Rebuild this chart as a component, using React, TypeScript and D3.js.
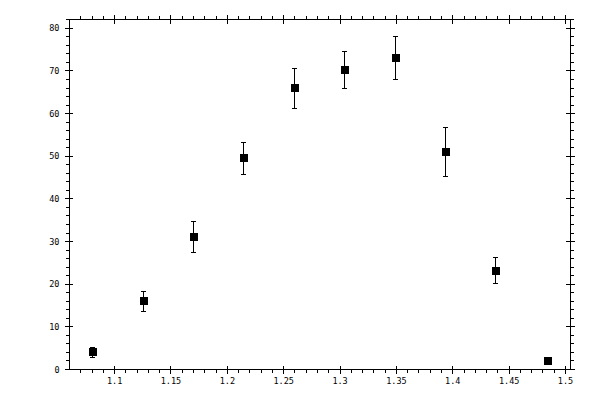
import * as d3 from "d3";

// energy (x), measured value (y) and its error
const xValues = [1.08, 1.125, 1.1695, 1.214, 1.259, 1.3035, 1.349, 1.393, 1.4375, 1.4835];
const yValues = [4.0, 16.0, 31.1, 49.5, 65.9, 70.3, 73.1, 51.0, 23.2, 2.1];
const yErrors = [1.1, 2.4, 3.6, 3.7, 4.7, 4.35, 5.0, 5.75, 3.05, 0];

const xMajor = [1.1, 1.15, 1.2, 1.25, 1.3, 1.35, 1.4, 1.45, 1.5];
const xLabels = ["1.1", "1.15", "1.2", "1.25", "1.3", "1.35", "1.4", "1.45", "1.5"];
const yMajor = [0, 10, 20, 30, 40, 50, 60, 70, 80];
const yLabels = ["0", "10", "20", "30", "40", "50", "60", "70", "80"];

export default function App() {
  const width = 600;
  const height = 400;
  const margin = { top: 19.5, right: 29.5, bottom: 30.5, left: 69.5 };

  const x = d3
    .scaleLinear()
    .domain([1.06, 1.5044])
    .range([margin.left, width - margin.right]);
  const y = d3
    .scaleLinear()
    .domain([0, 82.07])
    .range([height - margin.bottom, margin.top]);

  const xMinor = d3.range(107, 151).map((v) => v / 100).filter((v) => !xMajor.some((m) => Math.abs(m - v) < 1e-6));
  const yMinor = d3.range(0, 83, 2).filter((v) => v % 10 !== 0);

  const [x0, x1] = x.range();
  const [y0, y1] = y.range();
  const font = { fontFamily: "'DejaVu Sans Mono', monospace", fontSize: 8.5 };
  const sq = 8;
  const cap = 2.5;

  return (
    <svg
      width={width}
      height={height}
      style={{ position: "absolute", left: 0, top: 0, background: "#fff" }}
    >
      <g stroke="#000" strokeWidth={1} fill="none" shapeRendering="crispEdges">
        <rect x={x0} y={y1} width={x1 - x0} height={y0 - y1} />
        {xMajor.map((v) => (
          <g key={"xM" + v}>
            <line x1={x(v)} x2={x(v)} y1={y0 - 3.5} y2={y0 + 4} />
            <line x1={x(v)} x2={x(v)} y1={y1 - 4.5} y2={y1 + 4} />
          </g>
        ))}
        {xMinor.map((v) => (
          <g key={"xm" + v}>
            <line x1={x(v)} x2={x(v)} y1={y0} y2={y0 + 3.5} />
            <line x1={x(v)} x2={x(v)} y1={y1} y2={y1 - 3.5} />
          </g>
        ))}
        {yMajor.map((v) => (
          <g key={"yM" + v}>
            <line x1={x0 - 4.5} x2={x0 + 3} y1={y(v)} y2={y(v)} />
            <line x1={x1 - 4.5} x2={x1 + 4} y1={y(v)} y2={y(v)} />
          </g>
        ))}
        {yMinor.map((v) => (
          <g key={"ym" + v}>
            <line x1={x0 - 3.5} x2={x0} y1={y(v)} y2={y(v)} />
            <line x1={x1} x2={x1 + 3.5} y1={y(v)} y2={y(v)} />
          </g>
        ))}
      </g>
      <g style={font} fill="#000">
        {xMajor.map((v, i) => (
          <text key={"xl" + v} x={x(v)} y={y0 + 14} textAnchor="middle">
            {xLabels[i]}
          </text>
        ))}
        {yMajor.map((v, i) => (
          <text key={"yl" + v} x={x0 - 10} y={y(v) + 3} textAnchor="end">
            {yLabels[i]}
          </text>
        ))}
      </g>
      <g stroke="#000" strokeWidth={1} shapeRendering="crispEdges">
        {xValues.map((xv, i) => {
          const cx = Math.round(x(xv)) + 0.5;
          const top = y(yValues[i] + yErrors[i]);
          const bot = y(yValues[i] - yErrors[i]);
          return (
            <g key={"e" + i}>
              {yErrors[i] > 0 && (
                <>
                  <line x1={cx} x2={cx} y1={top} y2={bot} />
                  <line x1={cx - cap} x2={cx + cap} y1={top} y2={top} />
                  <line x1={cx - cap} x2={cx + cap} y1={bot} y2={bot} />
                </>
              )}
              <rect
                x={cx - sq / 2}
                y={y(yValues[i]) - sq / 2}
                width={sq}
                height={sq}
                fill="#000"
                stroke="none"
              />
            </g>
          );
        })}
      </g>
    </svg>
  );
}
